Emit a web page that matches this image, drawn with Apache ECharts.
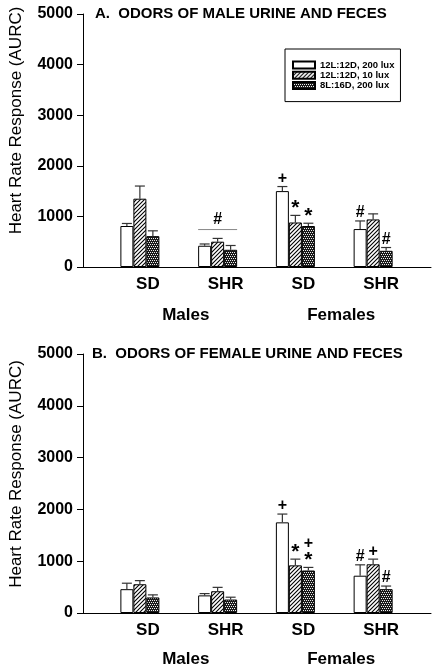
<!DOCTYPE html>
<html><head><meta charset="utf-8">
<script src="https://cdn.jsdelivr.net/npm/echarts@6/dist/echarts.min.js"></script>
<style>html,body{margin:0;padding:0;background:#fff}#c{width:435px;height:671px}</style>
</head><body><div id="c"></div>
<script>
// ---------- data ----------
const categories = ['SD', 'SHR', 'SD', 'SHR'];
const sexGroups = ['Males', 'Females'];
const conditionNames = ['12L:12D, 200 lux', '12L:12D, 10 lux', '8L:16D, 200 lux'];
const yMin = 0, yMax = 5000, yStep = 1000;
const titleA = 'A.  ODORS OF MALE URINE AND FECES';
const titleB = 'B.  ODORS OF FEMALE URINE AND FECES';
const yName = 'Heart Rate Response (AURC)';

// Panel A: odors of male urine and feces
const a200Mean = [810, 420, 1500, 750];
const a200Err  = [50, 35, 90, 160];
const a10Mean  = [1350, 500, 880, 940];
const a10Err   = [250, 65, 140, 110];
const a8Mean   = [610, 340, 810, 320];
const a8Err    = [105, 85, 55, 65];
const a200Sig  = ['', '', '+', '#'];
const a10Sig   = ['', '', '*', ''];
const a8Sig    = ['', '', '*', '#'];
const aGroupSigCat   = [1];
const aGroupSigValue = [740];
const aGroupSigText  = ['#'];

// Panel B: odors of female urine and feces
const b200Mean = [460, 340, 1750, 720];
const b200Err  = [115, 35, 160, 210];
const b10Mean  = [555, 420, 920, 940];
const b10Err   = [70, 75, 120, 100];
const b8Mean   = [300, 260, 820, 460];
const b8Err    = [50, 45, 60, 60];
const b200Sig  = ['', '', '+', '#'];
const b10Sig   = ['', '', '*', '+'];
const b8Sig    = ['', '', '+\n*', '#'];

// ---------- styling ----------
const FONT = 'Liberation Sans, Arial, Helvetica, sans-serif';
const BAR_W = 13;

function makePattern(kind) {
  const cv = document.createElement('canvas');
  const s = 4;
  cv.width = s; cv.height = s;
  const ctx = cv.getContext('2d');
  if (kind === 'hatch') {
    ctx.fillStyle = '#fff'; ctx.fillRect(0, 0, s, s);
    ctx.strokeStyle = '#000'; ctx.lineWidth = 1.1;
    ctx.beginPath();
    ctx.moveTo(-1, 1); ctx.lineTo(1, -1);
    ctx.moveTo(0, s); ctx.lineTo(s, 0);
    ctx.moveTo(s - 1, s + 1); ctx.lineTo(s + 1, s - 1);
    ctx.stroke();
  } else {
    ctx.fillStyle = '#1a1a1a'; ctx.fillRect(0, 0, s, s);
    ctx.fillStyle = '#f0f0f0';
    ctx.fillRect(0, 0, 1, 1); ctx.fillRect(2, 0, 1, 1);
    ctx.fillRect(1, 2, 1, 1); ctx.fillRect(3, 2, 1, 1);
  }
  return { image: cv, repeat: 'repeat' };
}
const fills = ['#ffffff', makePattern('hatch'), makePattern('cross')];

function sigTexts(sig, x, yTop) {
  const lines = sig.split('\n').reverse();
  return lines.map((ch, i) => {
    const isStar = ch === '*';
    const fs = isStar ? 21 : 16;
    const cy = yTop - 8 - 16 * i;
    return {
      type: 'text', x: x, y: cy + (isStar ? 1 : 0),
      style: { text: ch, fill: '#000', align: 'center', verticalAlign: 'middle',
               fontSize: fs, fontWeight: 'bold', fontFamily: FONT }
    };
  });
}

function barSeries(name, data, condIdx, axisIdx) {
  return {
    type: 'bar', name: name, data: data,
    xAxisIndex: axisIdx.x, yAxisIndex: axisIdx.y,
    barWidth: BAR_W, barGap: '0%',
    itemStyle: { color: fills[condIdx], borderColor: '#000', borderWidth: 1 },
    z: 2
  };
}

function errSeries(means, errs, sigs, condIdx, axisIdx) {
  return {
    type: 'custom', xAxisIndex: axisIdx.x, yAxisIndex: axisIdx.y, z: 3,
    data: means.map((m, j) => [j, m, errs[j]]),
    renderItem: function (params, api) {
      const j = api.value(0), m = api.value(1), e = api.value(2);
      const base = api.coord([j, m]);
      const top = api.coord([j, m + e]);
      const x = base[0] + (condIdx - 1) * BAR_W;
      let children = [
        { type: 'line', shape: { x1: x, y1: base[1], x2: x, y2: top[1] }, style: { stroke: '#333', lineWidth: 1.2 } },
        { type: 'line', shape: { x1: x - 5, y1: top[1], x2: x + 5, y2: top[1] }, style: { stroke: '#333', lineWidth: 1.2 } }
      ];
      const sig = sigs[params.dataIndex];
      if (sig) children = children.concat(sigTexts(sig, x, top[1]));
      return { type: 'group', children: children };
    }
  };
}

function groupSigSeries(cats, vals, texts, axisIdx) {
  return {
    type: 'custom', xAxisIndex: axisIdx.x, yAxisIndex: axisIdx.y, z: 3,
    data: cats.map((c, i) => [c, vals[i]]),
    renderItem: function (params, api) {
      const p = api.coord([api.value(0), api.value(1)]);
      const half = 1.5 * BAR_W;
      return {
        type: 'group', children: [
          { type: 'line', shape: { x1: p[0] - half, y1: p[1], x2: p[0] + half, y2: p[1] }, style: { stroke: '#888', lineWidth: 1 } },
          { type: 'text', x: p[0], y: p[1] - 10,
            style: { text: texts[params.dataIndex], fill: '#000', align: 'center', verticalAlign: 'middle',
                     fontSize: 16, fontWeight: 'bold', fontFamily: FONT } }
        ]
      };
    }
  };
}

// ---------- layout ----------
const panels = [
  { top: 14, height: 253, namePad: 40, sexMargin: 40 },
  { top: 354, height: 259, namePad: 19, sexMargin: 38 }
];

const grids = [], xAxes = [], yAxes = [];
panels.forEach((p, k) => {
  grids.push({ left: 82, top: p.top, width: 349, height: p.height });
  grids.push({ left: 101, top: p.top, width: 311, height: p.height });
  const gF = 2 * k, gB = 2 * k + 1;
  xAxes.push({
    type: 'value', gridIndex: gF, min: 0, max: 1,
    axisLine: { show: true, lineStyle: { color: '#000', width: 1 } },
    axisTick: { show: false }, axisLabel: { show: false }, splitLine: { show: false }
  });
  xAxes.push({
    type: 'category', gridIndex: gB, data: categories, position: 'bottom',
    axisLine: { show: false }, axisTick: { show: false },
    axisLabel: { margin: 9, fontSize: 17, fontWeight: 'bold', color: '#000', fontFamily: FONT, padding: [0, 0, 0, 16] }
  });
  xAxes.push({
    type: 'category', gridIndex: gB, data: sexGroups, position: 'bottom', offset: 0,
    axisLine: { show: false }, axisTick: { show: false },
    axisLabel: { margin: p.sexMargin, fontSize: 17, fontWeight: 'bold', color: '#000', fontFamily: FONT, padding: [0, 0, 0, 14] }
  });
  yAxes.push({
    type: 'value', gridIndex: gF, min: yMin, max: yMax, interval: yStep,
    axisLine: { show: true, lineStyle: { color: '#000', width: 1 } },
    axisTick: { show: true, length: 6, lineStyle: { color: '#000' } },
    axisLabel: { margin: 10, fontSize: 16, fontWeight: 'bold', color: '#000', fontFamily: FONT,
                 formatter: v => String(v) },
    splitLine: { show: false },
    name: yName, nameLocation: 'middle', nameGap: 58, nameRotate: 90,
    nameTextStyle: { fontSize: 17, color: '#000', fontFamily: FONT, padding: [0, 0, 0, p.namePad] }
  });
  yAxes.push({ type: 'value', gridIndex: gB, min: yMin, max: yMax, show: false });
});

const axA = { x: 1, y: 1 }, axB = { x: 4, y: 3 };

const series = [
  barSeries(conditionNames[0], a200Mean, 0, axA),
  barSeries(conditionNames[1], a10Mean, 1, axA),
  barSeries(conditionNames[2], a8Mean, 2, axA),
  barSeries(conditionNames[0], b200Mean, 0, axB),
  barSeries(conditionNames[1], b10Mean, 1, axB),
  barSeries(conditionNames[2], b8Mean, 2, axB),
  errSeries(a200Mean, a200Err, a200Sig, 0, axA),
  errSeries(a10Mean, a10Err, a10Sig, 1, axA),
  errSeries(a8Mean, a8Err, a8Sig, 2, axA),
  errSeries(b200Mean, b200Err, b200Sig, 0, axB),
  errSeries(b10Mean, b10Err, b10Sig, 1, axB),
  errSeries(b8Mean, b8Err, b8Sig, 2, axB),
  groupSigSeries(aGroupSigCat, aGroupSigValue, aGroupSigText, axA)
];

const chart = echarts.init(document.getElementById('c'), null, { renderer: 'canvas' });
chart.setOption({
  animation: false,
  backgroundColor: '#fff',
  title: [
    { text: titleA, left: 95, top: 6, padding: 0, textStyle: { fontSize: 15, fontWeight: 'bold', color: '#000', fontFamily: FONT } },
    { text: titleB, left: 92, top: 346, padding: 0, textStyle: { fontSize: 15, fontWeight: 'bold', color: '#000', fontFamily: FONT } }
  ],
  legend: {
    data: conditionNames, orient: 'vertical', left: 285, top: 49,
    padding: [11, 6, 11, 7], itemGap: 0, itemWidth: 22, itemHeight: 7,
    borderColor: '#000', borderWidth: 1, selectedMode: false, icon: 'rect',
    textStyle: { fontSize: 9.5, fontWeight: 'bold', color: '#000', fontFamily: FONT, lineHeight: 10.2 }
  },
  grid: grids, xAxis: xAxes, yAxis: yAxes, series: series
});
</script></body></html>
